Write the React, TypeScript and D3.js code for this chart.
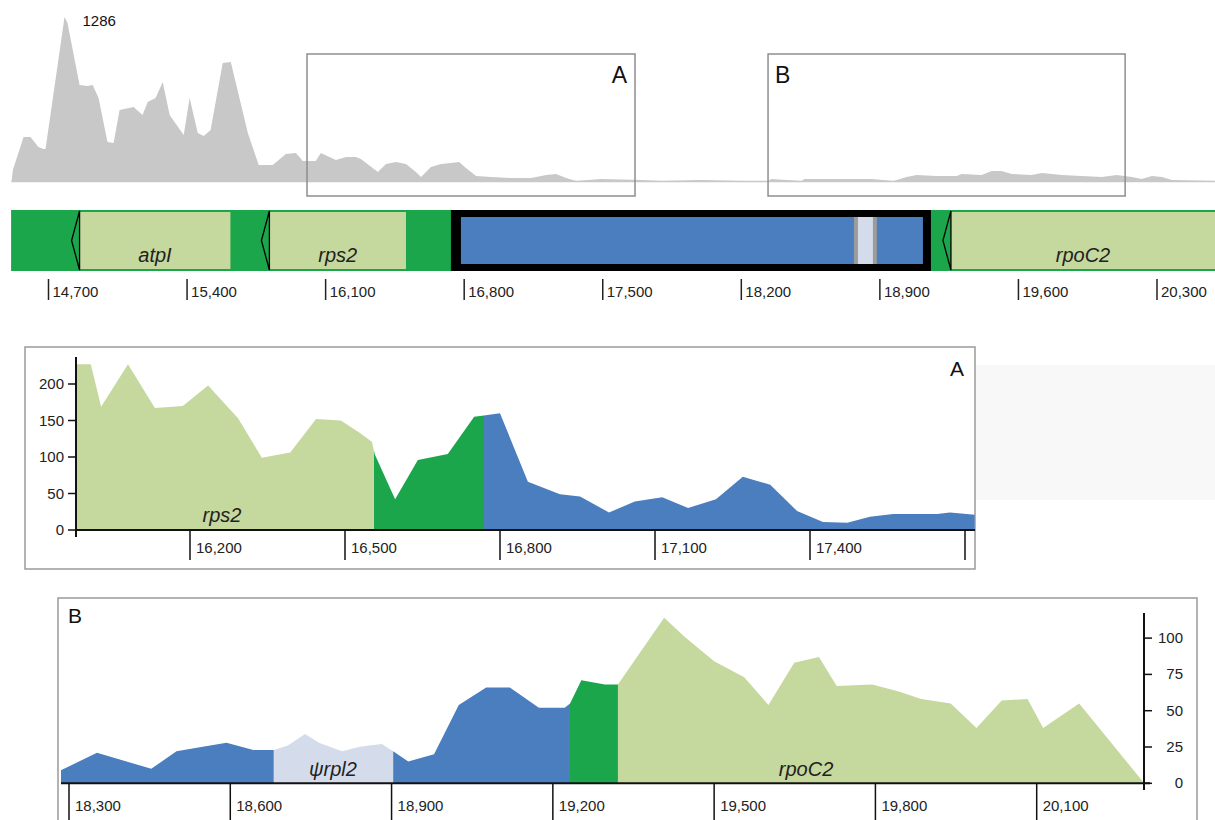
import React from 'react';
import * as d3 from 'd3';

// ---- overview coverage (bp, reads) ----
const overviewCoverage: [number, number][] = [
  [14513, 0], [14520, 94], [14574, 351], [14609, 351], [14649, 273], [14675, 257], [14685, 257],
  [14781, 1286], [14796, 1239], [14857, 756], [14897, 748], [14923, 756], [14953, 655], [14998, 312],
  [15029, 304], [15059, 561], [15130, 585], [15175, 522], [15201, 623], [15241, 655], [15277, 779],
  [15312, 522], [15383, 366], [15413, 655], [15454, 382], [15484, 359], [15519, 405], [15580, 927],
  [15621, 935], [15707, 382], [15762, 132], [15833, 132], [15899, 218], [15950, 226], [15985, 164],
  [16050, 164], [16076, 226], [16152, 171], [16203, 195], [16253, 195], [16278, 179], [16364, 78],
  [16405, 140], [16455, 156], [16506, 140], [16556, 78], [16582, 39], [16632, 117], [16683, 140],
  [16733, 148], [16774, 156], [16809, 109], [16860, 47], [16936, 39], [17037, 31], [17138, 31],
  [17214, 55], [17264, 62], [17315, 31], [17366, 8], [17492, 23], [17694, 16], [17796, 8],
  [17998, 16], [18200, 8], [18276, 0], [18326, 0], [18352, 23], [18504, 8], [18519, 23], [18757, 23],
  [18858, 23], [18969, 8], [19035, 39], [19085, 55], [19186, 47], [19288, 47], [19313, 62],
  [19414, 55], [19465, 86], [19515, 86], [19566, 62], [19667, 55], [19718, 70], [19819, 55],
  [19920, 47], [20021, 39], [20097, 55], [20173, 39], [20223, 23], [20274, 47], [20325, 39],
  [20375, 16], [20603, 8],
];
const overviewPeak = 1286;
const overviewTicks = [14700, 15400, 16100, 16800, 17500, 18200, 18900, 19600, 20300];
const trackExtent = [14511, 20600];
const trackGenes = [
  { name: 'atpI', start: 14857, end: 15619 },
  { name: 'rps2', start: 15816, end: 16506 },
  { name: 'rpoC2', start: 19259, end: 20600 },
];
const trackExonBox = [16733, 19158];
const trackPseudo = [18769, 18885];
const zoomBoxes = [
  { label: 'A', start: 16006, end: 17663 },
  { label: 'B', start: 18335, end: 20139 },
];

// ---- panel A ----
const panelACoverage: [number, number][] = [
  [15979, 227], [16008, 227], [16028, 169], [16080, 227], [16132, 167], [16186, 170], [16235, 198],
  [16293, 153], [16339, 99], [16394, 106], [16444, 152], [16492, 150], [16529, 133], [16552, 121],
  [16558, 103], [16597, 42], [16641, 96], [16699, 104], [16750, 155], [16769, 157], [16800, 160],
  [16854, 66], [16916, 49], [16955, 46], [17011, 24], [17061, 39], [17114, 45], [17164, 30],
  [17218, 42], [17270, 73], [17323, 62], [17375, 26], [17425, 11], [17472, 10], [17516, 18],
  [17561, 22], [17646, 22], [17671, 24], [17719, 21],
];
const panelASegments = [
  { start: 15979, end: 16556, kind: 'gene' },
  { start: 16556, end: 16769, kind: 'inter' },
  { start: 16769, end: 17719, kind: 'exon' },
];
const panelAXTicks = [16200, 16500, 16800, 17100, 17400, 17700];
const panelAXLabels = ['16,200', '16,500', '16,800', '17,100', '17,400', ''];
const panelAYTicks = [0, 50, 100, 150, 200];
const panelALabels = [{ text: 'rps2', pos: 16262 }];

// ---- panel B ----
const panelBCoverage: [number, number][] = [
  [18285, 9], [18352, 21], [18453, 10], [18500, 22], [18546, 25], [18593, 28], [18643, 23],
  [18681, 23], [18707, 26], [18739, 34], [18765, 28], [18808, 22], [18839, 25], [18858, 26],
  [18882, 27], [18903, 22], [18931, 15], [18979, 20], [19025, 54], [19076, 66], [19120, 66],
  [19174, 52], [19222, 52], [19232, 55], [19253, 71], [19297, 68], [19321, 68], [19323, 69],
  [19407, 114], [19445, 101], [19464, 95], [19500, 84], [19556, 73], [19601, 54], [19649, 83],
  [19695, 87], [19728, 67], [19794, 68], [19845, 63], [19885, 58], [19940, 55], [19988, 38],
  [20035, 57], [20083, 58], [20112, 38], [20179, 55], [20300, 0],
];
const panelBSegments = [
  { start: 18285, end: 18681, kind: 'exon' },
  { start: 18681, end: 18903, kind: 'pseudo' },
  { start: 18903, end: 19232, kind: 'exon' },
  { start: 19232, end: 19321, kind: 'inter' },
  { start: 19321, end: 20300, kind: 'gene' },
];
const panelBXTicks = [18300, 18600, 18900, 19200, 19500, 19800, 20100];
const panelBYTicks = [0, 25, 50, 75, 100];
const panelBLabels = [
  { text: 'ψrpl2', pos: 18791 },
  { text: 'rpoC2', pos: 19671 },
];

const FILL: Record<string, string> = {
  inter: '#1ba64b',
  gene: '#c5d89d',
  exon: '#4a7ebf',
  pseudo: '#d4dcec',
};
const FONT = "'Liberation Sans', Arial, Helvetica, sans-serif";
const fmt = d3.format(',');

export default function App() {
  const W = 1215;
  const H = 820;

  // overview scales
  const xTop = d3.scaleLinear().domain([14700, 20300]).range([48.5, 1157]);
  const yTop = d3.scaleLinear().domain([0, overviewPeak]).range([182, 17]);
  const topArea = d3.area<[number, number]>()
    .x(d => xTop(d[0]))
    .y0(yTop(0))
    .y1(d => yTop(d[1]))(overviewCoverage) || '';
  const peak = overviewCoverage.reduce((a, b) => (b[1] > a[1] ? b : a));

  // panel A scales
  const xA = d3.scaleLinear().domain([16200, 17700]).range([190, 965]);
  const yA = d3.scaleLinear().domain([0, 200]).range([530, 384]);
  const areaA = d3.area<[number, number]>()
    .x(d => xA(d[0])).y0(yA(0)).y1(d => yA(d[1]))(panelACoverage) || '';

  // panel B scales
  const xB = d3.scaleLinear().domain([18300, 20100]).range([69, 1036.7]);
  const yB = d3.scaleLinear().domain([0, 100]).range([783.3, 638.1]);
  const areaB = d3.area<[number, number]>()
    .x(d => xB(d[0])).y0(yB(0)).y1(d => yB(d[1]))(panelBCoverage) || '';

  const trackTop = 210;
  const trackBot = 271;
  const trackMid = (trackTop + trackBot) / 2;

  return (
    <svg width={W} height={H} style={{ position: 'absolute', left: 0, top: 0, background: '#fff' }}
      fontFamily={FONT}>
      <defs>
        {panelASegments.map((s, i) => (
          <clipPath id={`clipA${i}`} key={i}>
            <rect x={xA(s.start)} y={340} width={xA(s.end) - xA(s.start)} height={200} />
          </clipPath>
        ))}
        {panelBSegments.map((s, i) => (
          <clipPath id={`clipB${i}`} key={i}>
            <rect x={xB(s.start)} y={600} width={xB(s.end) - xB(s.start)} height={190} />
          </clipPath>
        ))}
      </defs>

      {/* overview coverage */}
      <path d={topArea} fill="#c8c8c8" />
      <line x1={xTop(overviewCoverage[0][0])} x2={W} y1={yTop(0) - 0.5} y2={yTop(0) - 0.5} stroke="#c8c8c8" strokeWidth={1.5} />
      <text x={xTop(peak[0]) + 18} y={26} fontSize={15} fill="#111">{peak[1]}</text>

      {zoomBoxes.map(b => (
        <g key={b.label}>
          <rect x={xTop(b.start)} y={54} width={xTop(b.end) - xTop(b.start)} height={142}
            fill="none" stroke="#8e8e8e" strokeWidth={1.5} />
          <text x={b.label === 'A' ? xTop(b.end) - 8 : xTop(b.start) + 7} y={83}
            textAnchor={b.label === 'A' ? 'end' : 'start'} fontSize={23} fill="#111">{b.label}</text>
        </g>
      ))}

      {/* gene track */}
      <rect x={xTop(trackExtent[0])} y={trackTop} width={xTop(trackExtent[1]) - xTop(trackExtent[0])}
        height={trackBot - trackTop} fill={FILL.inter} />
      {trackGenes.map(g => {
        const x0 = xTop(g.start);
        const x1 = Math.min(xTop(g.end), W);
        return (
          <g key={g.name}>
            <rect x={x0} y={trackTop + 2} width={x1 - x0} height={trackBot - trackTop - 4} fill={FILL.gene} />
            <path d={`M${x0},${trackTop + 1}L${x0 - 8},${trackMid}L${x0},${trackBot - 1}Z`}
              fill="none" stroke="#000" strokeWidth={1.3} />
            <text x={(x0 + x1) / 2} y={262} textAnchor="middle" fontSize={20} fontStyle="italic" fill="#222">{g.name}</text>
          </g>
        );
      })}
      <rect x={xTop(trackExonBox[0])} y={trackTop} width={xTop(trackExonBox[1]) - xTop(trackExonBox[0])}
        height={trackBot - trackTop} fill="#000" />
      <rect x={xTop(trackExonBox[0]) + 10} y={trackTop + 7} width={xTop(trackExonBox[1]) - xTop(trackExonBox[0]) - 18}
        height={trackBot - trackTop - 14} fill={FILL.exon} />
      <rect x={xTop(trackPseudo[0])} y={trackTop + 7} width={xTop(trackPseudo[1]) - xTop(trackPseudo[0])}
        height={trackBot - trackTop - 14} fill="#9c9c9c" />
      <rect x={xTop(trackPseudo[0]) + 4} y={trackTop + 7} width={xTop(trackPseudo[1]) - xTop(trackPseudo[0]) - 8}
        height={trackBot - trackTop - 14} fill={FILL.pseudo} />

      {overviewTicks.map(t => (
        <g key={t}>
          <line x1={xTop(t)} x2={xTop(t)} y1={279} y2={300} stroke="#222" strokeWidth={1.5} />
          <text x={xTop(t) + 4} y={297} fontSize={15} fill="#222">{fmt(t)}</text>
        </g>
      ))}

      {/* panel A */}
      <rect x={975} y={365} width={240} height={135} fill="#f8f8f8" />
      <rect x={25} y={347} width={950} height={222} fill="#fff" stroke="#9a9a9a" strokeWidth={1.5} />
      {panelASegments.map((s, i) => (
        <path key={i} d={areaA} fill={FILL[s.kind]} clipPath={`url(#clipA${i})`} />
      ))}
      <line x1={76} x2={975} y1={yA(0)} y2={yA(0)} stroke="#111" strokeWidth={2} />
      <line x1={76} x2={76} y1={357} y2={537} stroke="#111" strokeWidth={2} />
      {panelAYTicks.map(t => (
        <g key={t}>
          <line x1={68} x2={76} y1={yA(t)} y2={yA(t)} stroke="#111" strokeWidth={1.5} />
          <text x={64} y={yA(t) + 5} textAnchor="end" fontSize={15} fill="#222">{t}</text>
        </g>
      ))}
      {panelAXTicks.map((t, i) => (
        <g key={t}>
          <line x1={xA(t)} x2={xA(t)} y1={yA(0)} y2={560} stroke="#111" strokeWidth={1.5} />
          <text x={xA(t) + 6} y={553} fontSize={15} fill="#222">{panelAXLabels[i]}</text>
        </g>
      ))}
      {panelALabels.map(l => (
        <text key={l.text} x={xA(l.pos)} y={522} textAnchor="middle" fontSize={20} fontStyle="italic" fill="#222">{l.text}</text>
      ))}
      <text x={964} y={376} textAnchor="end" fontSize={21} fill="#111">A</text>

      {/* panel B */}
      <rect x={58} y={598} width={1139} height={240} fill="#fff" stroke="#9a9a9a" strokeWidth={1.5} />
      {panelBSegments.map((s, i) => (
        <path key={i} d={areaB} fill={FILL[s.kind]} clipPath={`url(#clipB${i})`} />
      ))}
      <line x1={61} x2={1150} y1={yB(0)} y2={yB(0)} stroke="#111" strokeWidth={2} />
      <line x1={1144} x2={1144} y1={613} y2={790} stroke="#111" strokeWidth={2} />
      {panelBYTicks.map(t => (
        <g key={t}>
          <line x1={1144} x2={1152} y1={yB(t)} y2={yB(t)} stroke="#111" strokeWidth={1.5} />
          <text x={1183} y={yB(t) + 5} textAnchor="end" fontSize={15} fill="#222">{t}</text>
        </g>
      ))}
      {panelBXTicks.map(t => (
        <g key={t}>
          <line x1={xB(t)} x2={xB(t)} y1={yB(0)} y2={820} stroke="#111" strokeWidth={1.5} />
          <text x={xB(t) + 6} y={811} fontSize={15} fill="#222">{fmt(t)}</text>
        </g>
      ))}
      {panelBLabels.map(l => (
        <text key={l.text} x={xB(l.pos)} y={776} textAnchor="middle" fontSize={20} fontStyle="italic" fill="#222">{l.text}</text>
      ))}
      <text x={68} y={623} fontSize={21} fill="#111">B</text>
    </svg>
  );
}
